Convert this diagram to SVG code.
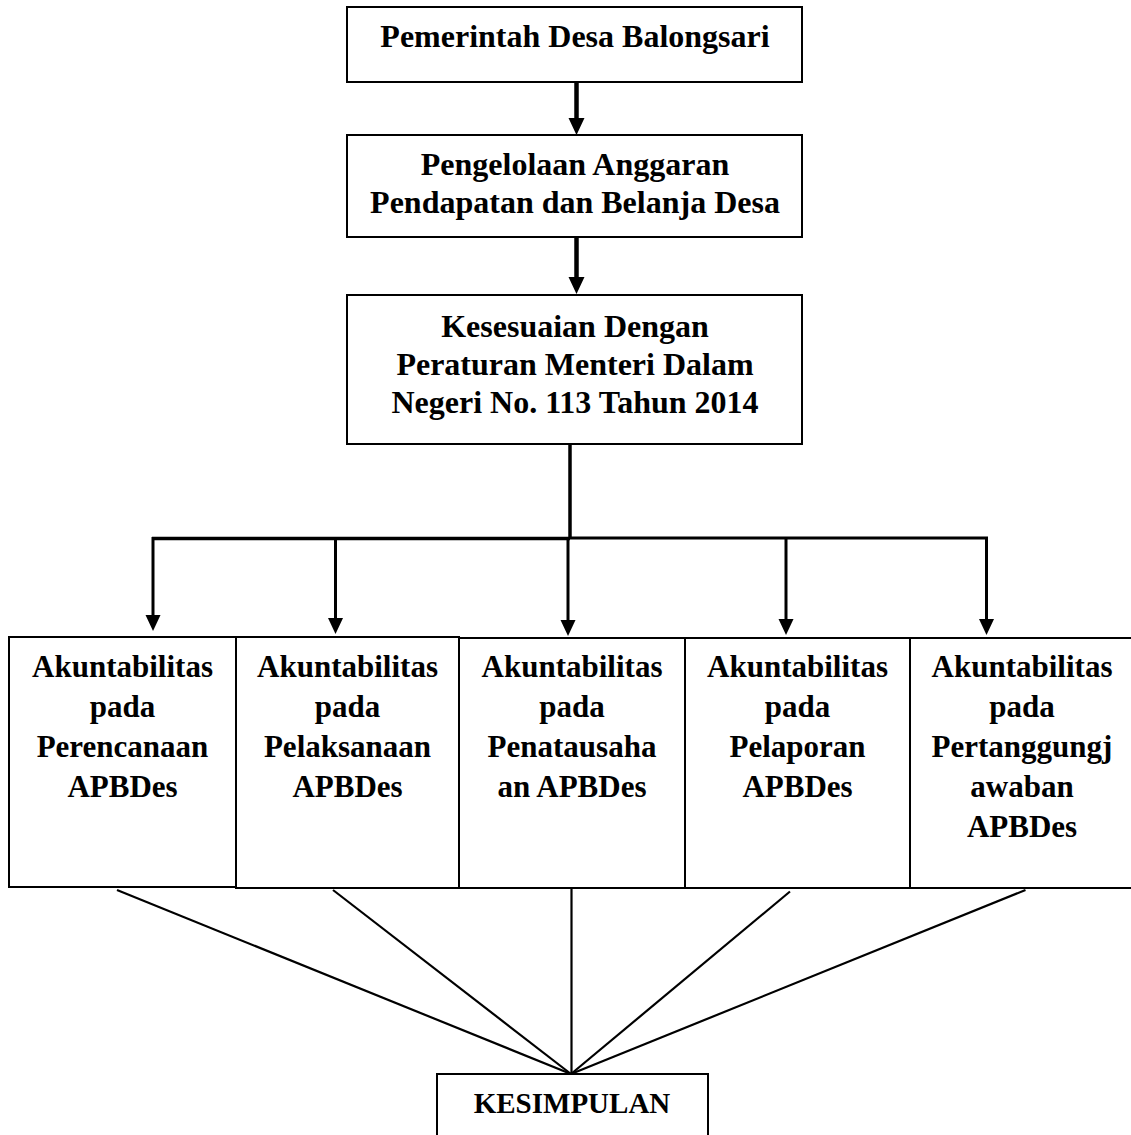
<svg xmlns="http://www.w3.org/2000/svg" width="1131" height="1135" viewBox="0 0 1131 1135">
<style>
  .box { fill: #ffffff; stroke: #000000; stroke-width: 2; }
  .t { font-family: "Liberation Serif", "Times New Roman", serif; font-weight: bold; fill: #000000; text-anchor: middle; }
  .big { font-size: 32px; }
  .mid { font-size: 31px; }
  .small { font-size: 29px; }
  .arrow { stroke: #000000; fill: none; }
  .fan { stroke: #000000; stroke-width: 2.2; fill: none; }
  .ah { fill: #000000; stroke: none; }
</style>
<defs>
  <path id="headBig" d="M-8,-17 L8,-17 L0,0 Z"/>
  <path id="head" d="M-7.5,-16 L7.5,-16 L0,0 Z"/>
</defs>
<rect width="1131" height="1135" fill="#ffffff"/>

<g id="connectors">
  <line class="arrow" x1="576.5" y1="82" x2="576.5" y2="120" stroke-width="4.5"/>
  <use class="ah" href="#headBig" x="576.5" y="135"/>
  <line class="arrow" x1="576.5" y1="237" x2="576.5" y2="279" stroke-width="4.5"/>
  <use class="ah" href="#headBig" x="576.5" y="294"/>
  <line class="arrow" x1="570" y1="444" x2="570" y2="539" stroke-width="3.5"/>
  <line class="arrow" x1="152" y1="538.5" x2="570" y2="538.5" stroke-width="3.5"/>
  <line class="arrow" x1="570" y1="538" x2="988" y2="538" stroke-width="2.8"/>
  <line class="arrow" x1="153" y1="537" x2="153" y2="617" stroke-width="3"/>
  <use class="ah" href="#head" x="153" y="631"/>
  <line class="arrow" x1="335.5" y1="537" x2="335.5" y2="620" stroke-width="3"/>
  <use class="ah" href="#head" x="335.5" y="634"/>
  <line class="arrow" x1="568" y1="537" x2="568" y2="622" stroke-width="3"/>
  <use class="ah" href="#head" x="568" y="636"/>
  <line class="arrow" x1="786" y1="537" x2="786" y2="621" stroke-width="3"/>
  <use class="ah" href="#head" x="786" y="635"/>
  <line class="arrow" x1="986.5" y1="537" x2="986.5" y2="621" stroke-width="3"/>
  <use class="ah" href="#head" x="986.5" y="635"/>
  <line class="fan" x1="117" y1="890" x2="571" y2="1074"/>
  <line class="fan" x1="333" y1="890" x2="571" y2="1074"/>
  <line class="fan" x1="571.5" y1="889" x2="571.5" y2="1074"/>
  <line class="fan" x1="790" y1="891.5" x2="571" y2="1074"/>
  <line class="fan" x1="1025.5" y1="890" x2="571" y2="1074"/>
</g>

<g id="n-pemerintah">
  <rect class="box" x="347" y="7" width="455" height="75"/>
  <text class="t big" x="575" y="47">Pemerintah Desa Balongsari</text>
</g>

<g id="n-pengelolaan">
  <rect class="box" x="347" y="135" width="455" height="102"/>
  <text class="t big" x="575" y="175">Pengelolaan Anggaran</text>
  <text class="t big" x="575" y="213">Pendapatan dan Belanja Desa</text>
</g>

<g id="n-kesesuaian">
  <rect class="box" x="347" y="295" width="455" height="149"/>
  <text class="t big" x="575" y="336.5">Kesesuaian Dengan</text>
  <text class="t big" x="575" y="375">Peraturan Menteri Dalam</text>
  <text class="t big" x="575" y="413">Negeri No. 113 Tahun 2014</text>
</g>

<g id="n-perencanaan">
  <rect class="box" x="9" y="637" width="227" height="250"/>
  <text class="t mid" x="122.5" y="677">Akuntabilitas</text>
  <text class="t mid" x="122.5" y="717">pada</text>
  <text class="t mid" x="122.5" y="757">Perencanaan</text>
  <text class="t mid" x="122.5" y="797">APBDes</text>
</g>

<g id="n-pelaksanaan">
  <rect class="box" x="236" y="637" width="223" height="251"/>
  <text class="t mid" x="347.5" y="677">Akuntabilitas</text>
  <text class="t mid" x="347.5" y="717">pada</text>
  <text class="t mid" x="347.5" y="757">Pelaksanaan</text>
  <text class="t mid" x="347.5" y="797">APBDes</text>
</g>

<g id="n-penatausahaan">
  <rect class="box" x="459" y="638" width="226" height="250"/>
  <text class="t mid" x="572" y="677">Akuntabilitas</text>
  <text class="t mid" x="572" y="717">pada</text>
  <text class="t mid" x="572" y="757">Penatausaha</text>
  <text class="t mid" x="572" y="797">an APBDes</text>
</g>

<g id="n-pelaporan">
  <rect class="box" x="685" y="638" width="225" height="250"/>
  <text class="t mid" x="797.5" y="677">Akuntabilitas</text>
  <text class="t mid" x="797.5" y="717">pada</text>
  <text class="t mid" x="797.5" y="757">Pelaporan</text>
  <text class="t mid" x="797.5" y="797">APBDes</text>
</g>

<g id="n-pertanggungjawaban">
  <rect class="box" x="910" y="638" width="225" height="250"/>
  <text class="t mid" x="1022" y="677">Akuntabilitas</text>
  <text class="t mid" x="1022" y="717">pada</text>
  <text class="t mid" x="1022" y="757">Pertanggungj</text>
  <text class="t mid" x="1022" y="797">awaban</text>
  <text class="t mid" x="1022" y="837">APBDes</text>
</g>

<g id="n-kesimpulan">
  <rect class="box" x="437" y="1074" width="271" height="70"/>
  <text class="t small" x="572" y="1113">KESIMPULAN</text>
</g>
</svg>
